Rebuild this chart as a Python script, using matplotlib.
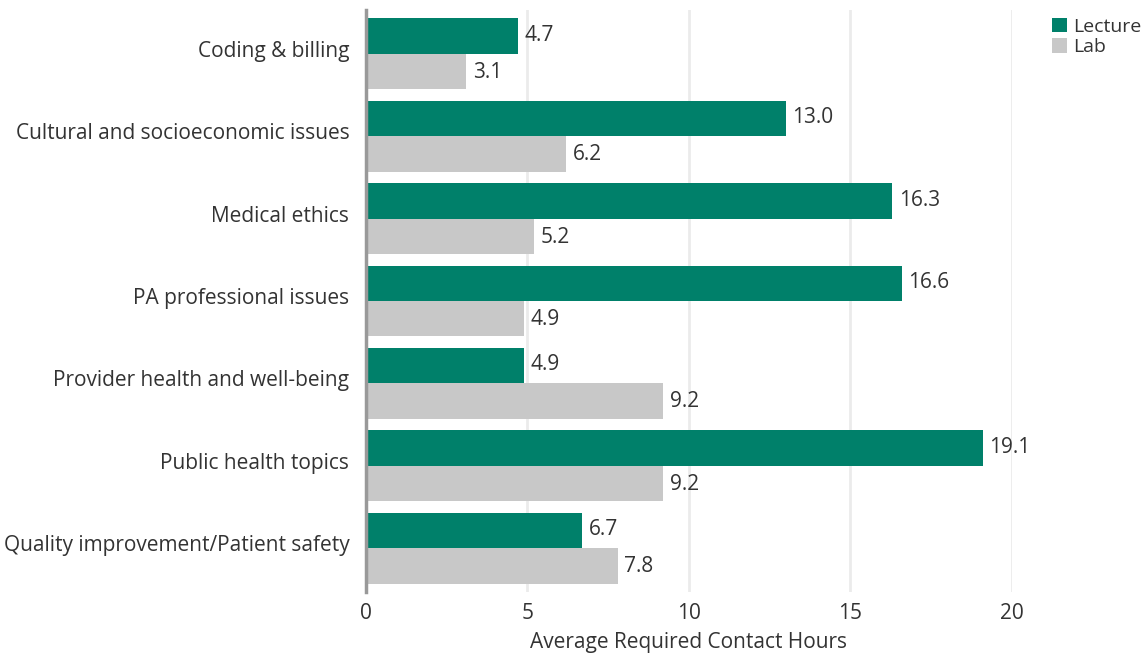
import matplotlib.pyplot as plt
import numpy as np

plt.rcParams['font.family'] = ['Open Sans', 'DejaVu Sans']

categories = [
    "Coding & billing",
    "Cultural and socioeconomic issues",
    "Medical ethics",
    "PA professional issues",
    "Provider health and well-being",
    "Public health topics",
    "Quality improvement/Patient safety",
]
lecture = [4.7, 13.0, 16.3, 16.6, 4.9, 19.1, 6.7]
lab = [3.1, 6.2, 5.2, 4.9, 9.2, 9.2, 7.8]

GREEN = "#00806a"
GRAY = "#c8c8c8"
TEXT = "#333333"
FS = 15

fig = plt.figure(figsize=(11.42, 6.53), dpi=100)
ax = fig.add_axes([0.3205, 0.0934, 0.886 - 0.3205, 0.9847 - 0.0934])

y = np.arange(len(categories))
h = 0.43
ax.barh(y - h / 2, lecture, height=h, color=GREEN, label="Lecture", zorder=2)
ax.barh(y + h / 2, lab, height=h, color=GRAY, label="Lab", zorder=2)

for yi, v in zip(y, lecture):
    ax.text(v + 0.2, yi - h / 2 - 0.01, f"{v:.1f}", va="center", ha="left",
            fontsize=FS, color=TEXT)
for yi, v in zip(y, lab):
    ax.text(v + 0.2, yi + h / 2 + 0.01, f"{v:.1f}", va="center", ha="left",
            fontsize=FS, color=TEXT)

ax.set_xlim(0, 20)
ax.set_ylim(6.53, -0.53)
# labels sit a little above the group centre
ax.set_yticks(y - 0.06)
ax.set_yticklabels(categories, fontsize=FS, color=TEXT)
ax.set_xticks([0, 5, 10, 15, 20])
ax.tick_params(axis="x", labelsize=FS, colors=TEXT, length=0, pad=8)
ax.tick_params(axis="y", length=0, pad=12)
ax.set_xlabel("Average Required Contact Hours", fontsize=FS, color=TEXT,
              labelpad=6)

ax.grid(axis="x", color="#ebebeb", linewidth=2, zorder=0)
ax.set_axisbelow(True)
for side in ["top", "right", "bottom"]:
    ax.spines[side].set_visible(False)
ax.spines["left"].set_color("#999999")
ax.spines["left"].set_linewidth(2.5)
ax.spines["left"].set_zorder(3)

leg = fig.legend(loc="upper left", bbox_to_anchor=(0.914, 0.985), frameon=False,
                 fontsize=14, handlelength=0.8, handleheight=0.8,
                 handletextpad=0.3, labelspacing=0.1, borderaxespad=0)
for t in leg.get_texts():
    t.set_color(TEXT)

fig.savefig("out.png", dpi=100)
